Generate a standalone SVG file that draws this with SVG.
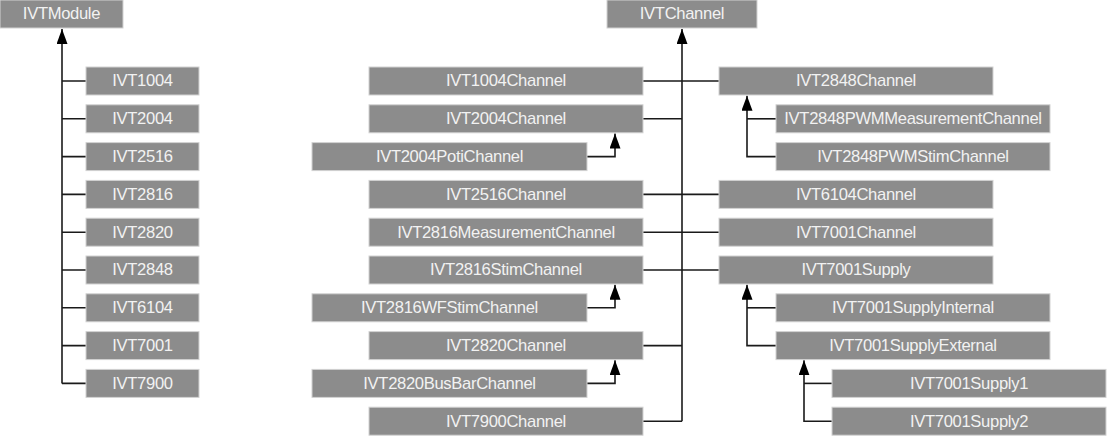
<svg xmlns="http://www.w3.org/2000/svg" width="1107" height="436" viewBox="0 0 1107 436">
<style>
.box{fill:#8c8c8c;stroke:#d2d2d2;stroke-width:1}
.lbl{font-family:"Liberation Sans",Arial,sans-serif;font-size:16.6px;letter-spacing:-0.33px;fill:#f2f2f2;text-anchor:middle}
.ln{fill:none;stroke:#1a1a1a;stroke-width:1.6}
.arr{fill:none;stroke:#1a1a1a;stroke-width:1.6;marker-end:url(#tri)}
</style>
<defs>
<marker id="tri" markerUnits="userSpaceOnUse" markerWidth="16" markerHeight="12" refX="15" refY="5.5" orient="auto">
<path d="M0,0 L15,5.5 L0,11 z" fill="#000"/>
</marker>
</defs>
<rect width="1107" height="436" fill="#fff"/>
<g id="connectors">
<path class="arr" d="M62,383.4 V29"/>
<path class="ln" d="M62,81 H86 M62,118.8 H86 M62,156.6 H86 M62,194.4 H86 M62,232.2 H86 M62,270 H86 M62,307.8 H86 M62,345.6 H86 M62,383.4 H86"/>
<path class="arr" d="M682,421.2 V29"/>
<path class="ln" d="M643,81 H719 M643,118.8 H682 M643,194.4 H719 M643,232.2 H719 M643,270 H719 M643,345.6 H682 M643,421.2 H682"/>
<path class="arr" d="M587,156.6 H615 V133.5"/>
<path class="arr" d="M587,307.8 H615 V284.7"/>
<path class="arr" d="M587,383.4 H615 V360.3"/>
<path class="ln" d="M776,118.8 H747"/>
<path class="arr" d="M776,156.6 H747 V95.7"/>
<path class="ln" d="M776,307.8 H747"/>
<path class="arr" d="M776,345.6 H747 V284.7"/>
<path class="ln" d="M832,383.4 H804"/>
<path class="arr" d="M832,421.2 H804 V360.3"/>
</g>
<g id="IVTModule"><rect class="box" x="0" y="0" width="123" height="28"/><text class="lbl" x="61.5" y="19.3">IVTModule</text></g>
<g id="IVT1004"><rect class="box" x="86" y="67" width="113" height="28"/><text class="lbl" x="142.5" y="86.3">IVT1004</text></g>
<g id="IVT2004"><rect class="box" x="86" y="104.8" width="113" height="28"/><text class="lbl" x="142.5" y="124.1">IVT2004</text></g>
<g id="IVT2516"><rect class="box" x="86" y="142.6" width="113" height="28"/><text class="lbl" x="142.5" y="161.9">IVT2516</text></g>
<g id="IVT2816"><rect class="box" x="86" y="180.4" width="113" height="28"/><text class="lbl" x="142.5" y="199.7">IVT2816</text></g>
<g id="IVT2820"><rect class="box" x="86" y="218.2" width="113" height="28"/><text class="lbl" x="142.5" y="237.5">IVT2820</text></g>
<g id="IVT2848"><rect class="box" x="86" y="256" width="113" height="28"/><text class="lbl" x="142.5" y="275.3">IVT2848</text></g>
<g id="IVT6104"><rect class="box" x="86" y="293.8" width="113" height="28"/><text class="lbl" x="142.5" y="313.1">IVT6104</text></g>
<g id="IVT7001"><rect class="box" x="86" y="331.6" width="113" height="28"/><text class="lbl" x="142.5" y="350.9">IVT7001</text></g>
<g id="IVT7900"><rect class="box" x="86" y="369.4" width="113" height="28"/><text class="lbl" x="142.5" y="388.7">IVT7900</text></g>
<g id="IVTChannel"><rect class="box" x="607" y="0" width="150" height="28"/><text class="lbl" x="682" y="19.3">IVTChannel</text></g>
<g id="IVT1004Channel"><rect class="box" x="369" y="67" width="274" height="28"/><text class="lbl" x="506" y="86.3">IVT1004Channel</text></g>
<g id="IVT2004Channel"><rect class="box" x="369" y="104.8" width="274" height="28"/><text class="lbl" x="506" y="124.1">IVT2004Channel</text></g>
<g id="IVT2004PotiChannel"><rect class="box" x="312" y="142.6" width="275" height="28"/><text class="lbl" x="449.5" y="161.9">IVT2004PotiChannel</text></g>
<g id="IVT2516Channel"><rect class="box" x="369" y="180.4" width="274" height="28"/><text class="lbl" x="506" y="199.7">IVT2516Channel</text></g>
<g id="IVT2816MeasurementChannel"><rect class="box" x="369" y="218.2" width="274" height="28"/><text class="lbl" x="506" y="237.5">IVT2816MeasurementChannel</text></g>
<g id="IVT2816StimChannel"><rect class="box" x="369" y="256" width="274" height="28"/><text class="lbl" x="506" y="275.3">IVT2816StimChannel</text></g>
<g id="IVT2816WFStimChannel"><rect class="box" x="312" y="293.8" width="275" height="28"/><text class="lbl" x="449.5" y="313.1">IVT2816WFStimChannel</text></g>
<g id="IVT2820Channel"><rect class="box" x="369" y="331.6" width="274" height="28"/><text class="lbl" x="506" y="350.9">IVT2820Channel</text></g>
<g id="IVT2820BusBarChannel"><rect class="box" x="312" y="369.4" width="275" height="28"/><text class="lbl" x="449.5" y="388.7">IVT2820BusBarChannel</text></g>
<g id="IVT7900Channel"><rect class="box" x="369" y="407.2" width="274" height="28"/><text class="lbl" x="506" y="426.5">IVT7900Channel</text></g>
<g id="IVT2848Channel"><rect class="box" x="719" y="67" width="274" height="28"/><text class="lbl" x="856" y="86.3">IVT2848Channel</text></g>
<g id="IVT2848PWMMeasurementChannel"><rect class="box" x="776" y="104.8" width="274" height="28"/><text class="lbl" x="913" y="124.1">IVT2848PWMMeasurementChannel</text></g>
<g id="IVT2848PWMStimChannel"><rect class="box" x="776" y="142.6" width="274" height="28"/><text class="lbl" x="913" y="161.9">IVT2848PWMStimChannel</text></g>
<g id="IVT6104Channel"><rect class="box" x="719" y="180.4" width="274" height="28"/><text class="lbl" x="856" y="199.7">IVT6104Channel</text></g>
<g id="IVT7001Channel"><rect class="box" x="719" y="218.2" width="274" height="28"/><text class="lbl" x="856" y="237.5">IVT7001Channel</text></g>
<g id="IVT7001Supply"><rect class="box" x="719" y="256" width="274" height="28"/><text class="lbl" x="856" y="275.3">IVT7001Supply</text></g>
<g id="IVT7001SupplyInternal"><rect class="box" x="776" y="293.8" width="274" height="28"/><text class="lbl" x="913" y="313.1">IVT7001SupplyInternal</text></g>
<g id="IVT7001SupplyExternal"><rect class="box" x="776" y="331.6" width="274" height="28"/><text class="lbl" x="913" y="350.9">IVT7001SupplyExternal</text></g>
<g id="IVT7001Supply1"><rect class="box" x="832" y="369.4" width="274" height="28"/><text class="lbl" x="969" y="388.7">IVT7001Supply1</text></g>
<g id="IVT7001Supply2"><rect class="box" x="832" y="407.2" width="274" height="28"/><text class="lbl" x="969" y="426.5">IVT7001Supply2</text></g>
</svg>
